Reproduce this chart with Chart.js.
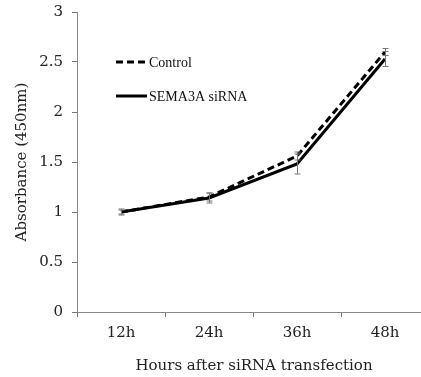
<!DOCTYPE html>
<html><head><meta charset="utf-8">
<script src="https://cdn.jsdelivr.net/npm/chart.js@4/dist/chart.umd.min.js"></script>
<style>
html,body{margin:0;padding:0;width:421px;height:377px;overflow:hidden;background:#fff;}
#wrap{position:absolute;left:0;top:0;width:440px;height:377px;}
</style></head>
<body><div id="wrap"><canvas id="c" width="440" height="377"></canvas></div>
<script>
const categories = ["12h", "24h", "36h", "48h"];
const controlValues = [1.00, 1.15, 1.56, 2.60];
const controlErrors = [0.02, 0.04, 0.04, 0.035];
const semaValues = [1.00, 1.14, 1.48, 2.53];
const semaErrors = [0.03, 0.05, 0.10, 0.075];
const yTicks = [0, 0.5, 1, 1.5, 2, 2.5, 3];
const seriesNames = ["Control", "SEMA3A siRNA"];
const xTitle = "Hours after siRNA transfection";
const yTitle = "Absorbance (450nm)";

const SERIF = "'DejaVu Serif', serif";
const LEG = "'Liberation Serif', serif";

const errorBars = {
  id: 'errorBars',
  afterDatasetsDraw(chart) {
    const ctx = chart.ctx, ys = chart.scales.y;
    ctx.save();
    ctx.strokeStyle = '#777';
    ctx.lineWidth = 1;
    chart.data.datasets.forEach((ds, di) => {
      const meta = chart.getDatasetMeta(di);
      meta.data.forEach((pt, i) => {
        const v = ds.data[i], e = ds.errors[i];
        const x = Math.round(pt.x) + 0.5;
        const y1 = ys.getPixelForValue(v + e), y2 = ys.getPixelForValue(v - e);
        ctx.beginPath();
        ctx.moveTo(x, y1); ctx.lineTo(x, y2);
        ctx.moveTo(x - 3, y1); ctx.lineTo(x + 3, y1);
        ctx.moveTo(x - 3, y2); ctx.lineTo(x + 3, y2);
        ctx.stroke();
      });
    });
    ctx.restore();
  }
};

const extras = {
  id: 'extras',
  afterDraw(chart) {
    const ctx = chart.ctx, a = chart.chartArea;
    ctx.save();
    ctx.fillStyle = '#222';
    ctx.font = "15px " + SERIF;
    ctx.textAlign = 'center';
    ctx.textBaseline = 'middle';
    ctx.fillText(xTitle, 254, 366);
    ctx.translate(22, (a.top + a.bottom) / 2);
    ctx.rotate(-Math.PI / 2);
    ctx.fillText(yTitle, 0, 0);
    ctx.restore();
    // legend
    ctx.save();
    const rows = [62, 96];
    chart.data.datasets.forEach((ds, i) => {
      ctx.strokeStyle = '#000';
      ctx.lineWidth = 3;
      ctx.setLineDash(ds.borderDash || []);
      ctx.beginPath();
      ctx.moveTo(116, rows[i]); ctx.lineTo(147, rows[i]);
      ctx.stroke();
      ctx.setLineDash([]);
      ctx.fillStyle = '#111';
      ctx.font = "14px " + LEG;
      ctx.textAlign = 'left';
      ctx.textBaseline = 'middle';
      ctx.fillText(ds.label, 149, rows[i] + 1);
    });
    ctx.restore();
  }
};

new Chart(document.getElementById('c'), {
  type: 'line',
  data: {
    labels: categories,
    datasets: [
      { label: seriesNames[0], data: controlValues, errors: controlErrors,
        borderColor: '#000', borderWidth: 3, borderDash: [7, 4], pointRadius: 0, tension: 0, fill: false },
      { label: seriesNames[1], data: semaValues, errors: semaErrors,
        borderColor: '#000', borderWidth: 3, pointRadius: 0, tension: 0, fill: false }
    ]
  },
  options: {
    responsive: false,
    animation: false,
    layout: { padding: { left: 0, right: 11, top: 12, bottom: 0 } },
    plugins: { legend: { display: false }, tooltip: { enabled: false } },
    scales: {
      x: {
        type: 'category',
        offset: true,
        grid: { display: true, offset: true, drawOnChartArea: false, drawTicks: true, tickLength: 5, color: '#777', lineWidth: 1 },
        border: { display: true, color: '#888', width: 1 },
        ticks: { color: '#222', font: { family: SERIF, size: 15 }, padding: 7, maxRotation: 0 },
        afterFit(s) { s.height = 65; s.paddingLeft = 0; s.paddingRight = 0; }
      },
      y: {
        min: 0, max: 3,
        afterBuildTicks(s) { s.ticks = yTicks.map(v => ({ value: v })); },
        grid: { display: true, drawOnChartArea: false, drawTicks: true, tickLength: 5, color: '#777', lineWidth: 1 },
        border: { display: true, color: '#888', width: 1 },
        ticks: { color: '#222', font: { family: SERIF, size: 15 }, padding: 9, callback: v => String(v) },
        afterFit(s) { s.width = 77; s.paddingTop = 0; s.paddingBottom = 0; }
      }
    }
  },
  plugins: [errorBars, extras]
});
</script>
</body></html>
